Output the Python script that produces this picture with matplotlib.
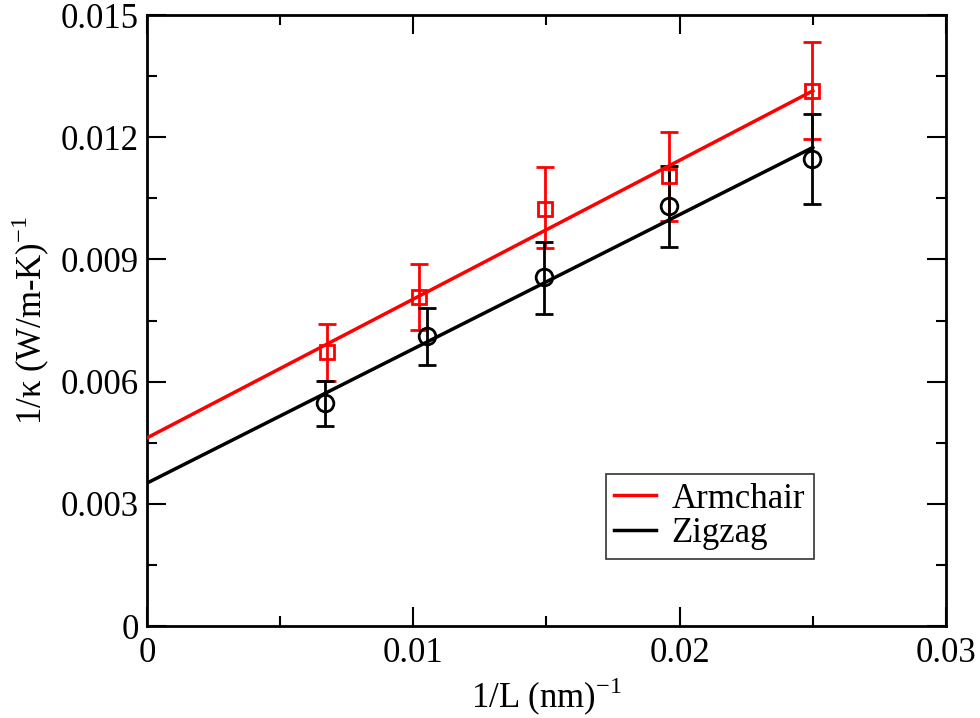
import numpy as np
import matplotlib.pyplot as plt
from matplotlib.ticker import MultipleLocator, FuncFormatter

plt.rcParams['font.family'] = ['Liberation Serif', 'DejaVu Serif']
plt.rcParams['mathtext.fontset'] = 'custom'
plt.rcParams['mathtext.rm'] = 'Liberation Serif'

# armchair data (1/L, 1/kappa, error bar low/high)
arm_x = [0.00675, 0.01022, 0.01495, 0.0196, 0.02497]
arm_y = [0.00673, 0.00808, 0.01025, 0.01105, 0.01314]
arm_lo = [0.00601, 0.00728, 0.00927, 0.00994, 0.01195]
arm_hi = [0.00741, 0.00889, 0.01127, 0.01214, 0.01434]

# zigzag data
zig_x = [0.0067, 0.01052, 0.0149, 0.0196, 0.02497]
zig_y = [0.00547, 0.00713, 0.00856, 0.01031, 0.01146]
zig_lo = [0.00491, 0.00642, 0.00765, 0.0093, 0.01036]
zig_hi = [0.00601, 0.00782, 0.00943, 0.0113, 0.01256]

# linear fits (intercept, slope)
arm_fit = (0.00462, 0.3408)
zig_fit = (0.00351, 0.3296)
fit_x = np.array([0.0, 0.025])

fig = plt.figure(figsize=(9.8, 7.18), dpi=100)
ax = fig.add_axes([0.150, 0.128, 0.8153, 0.851])

for xs, ys, lo, hi, fit, col, mk, ms, lab in [
        (arm_x, arm_y, arm_lo, arm_hi, arm_fit, 'red', 's', 10, 'Armchair'),
        (zig_x, zig_y, zig_lo, zig_hi, zig_fit, 'black', 'o', 12, 'Zigzag')]:
    ys = np.array(ys)
    err = [ys - np.array(lo), np.array(hi) - ys]
    ax.errorbar(xs, ys, yerr=err, fmt='none', ecolor=col, elinewidth=2,
                capsize=6.5, capthick=2, zorder=3)
    ax.plot(xs, ys, ls='none', marker=mk, ms=ms, mfc='none', mec=col,
            mew=2, zorder=4)
    ax.plot(fit_x, fit[0] + fit[1] * fit_x, color=col, lw=2.5, label=lab,
            zorder=5)

ax.set_xlim(0, 0.03)
ax.set_ylim(0, 0.015)
ax.xaxis.set_major_locator(MultipleLocator(0.01))
ax.xaxis.set_minor_locator(MultipleLocator(0.005))
ax.yaxis.set_major_locator(MultipleLocator(0.003))
ax.yaxis.set_minor_locator(MultipleLocator(0.0015))
fmt = FuncFormatter(lambda v, p: '%g' % round(v, 6))
ax.xaxis.set_major_formatter(fmt)
ax.yaxis.set_major_formatter(fmt)
ax.tick_params(which='both', direction='in', top=True, right=True,
               labelsize=25, width=1.5)
ax.tick_params(axis='x', pad=8)
ax.tick_params(axis='y', pad=6)
ax.tick_params(which='major', length=14)
ax.tick_params(which='minor', length=7)
for s in ax.spines.values():
    s.set_linewidth(2)

ax.set_xlabel('1/L (nm)$^{\\mathregular{-1}}$', fontsize=25, labelpad=4)
ax.set_ylabel('1/κ (W/m-K)$^{\\mathregular{-1}}$', fontsize=25, labelpad=6)

leg = ax.legend(loc='upper left', bbox_to_anchor=(0.574, 0.249), fontsize=25,
                fancybox=False, framealpha=1, edgecolor='#333333',
                handlelength=1.2, handletextpad=0.45, borderpad=0.25,
                labelspacing=0.05, borderaxespad=0)
leg.get_frame().set_linewidth(1.2)

fig.savefig('out.png', dpi=100)
